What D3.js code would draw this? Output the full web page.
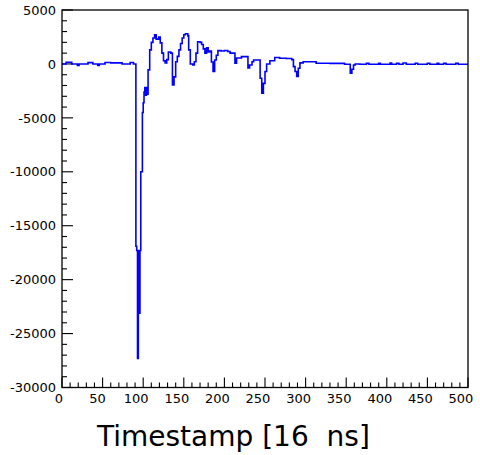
<!DOCTYPE html>
<html>
<head>
<meta charset="utf-8">
<script src="https://cdn.jsdelivr.net/npm/d3@7"></script>
<style>
  html, body { margin: 0; padding: 0; background: #fff; }
  svg { display: block; }
  text { font-family: "DejaVu Sans", sans-serif; }
</style>
</head>
<body>
<script>
// ---- data (piecewise-constant histogram levels) ----
const runStart = [0, 5, 12, 19, 21, 32, 38, 44, 46, 53, 60, 74, 84, 88,
  91, 92, 93, 94, 95, 96, 97, 99, 100, 101, 102, 103, 104, 105, 106, 108, 110, 112, 114, 116, 119,
  121, 123, 125, 127, 129, 131, 134, 136, 138, 140, 142, 144, 146, 148, 150, 152, 155, 156, 158,
  161, 163, 165, 167, 170, 172, 174, 176, 178, 180, 182, 184, 186, 188, 190, 192, 196, 200, 204, 207,
  213, 215, 221, 229, 231, 234, 236, 244, 246, 248, 250, 252, 256, 262, 268, 276, 283, 285, 287, 289,
  291, 293, 297, 313, 330, 348, 355, 357, 359, 361, 367, 375, 378, 390, 392, 404, 406, 412, 415, 420,
  424, 435, 438, 450, 453, 462, 464, 470, 473, 485, 488, 495];
const runValue = [0, 150, 0, -150, 0, 120, 0, -150, 0, 130, 100, 0, 130, 0,
  -16900, -17300, -27300, -17300, -23100, -17300, -10000, -4500, -3600, -2600, -2200, -2900, -2200, -2800, -550, 1300, 2000, 2400, 2700, 2300, 2500,
  1950, 1000, 300, 100, 400, 1100, 1000, -1950, -1200, 200, 700, 1300, 1900, 2400, 2700, 2800, 2600, 1300, 0,
  -100, 200, 1000, 2050, 2000, 1800, 1400, 1000, 1500, 1100, 1200, 180, -700, 370, 800, 1230, 1200, 1250, 1150, 1000,
  60, 550, 680, -370, -100, 200, 370, -1330, -2720, -1800, -700, 0, 300, 600, 530, 500, 400, -250, -700, -1170,
  -400, 100, 200, 60, 50, -30, -860, -500, -100, 0, -30, 60, -30, 60, -30, 80, -30, 60, -30, 80,
  -30, 60, -30, 60, -30, 60, -30, 60, -30, 60, -30, -30];
const xMax = 500;
const xDomain = [0, 500];
const yDomain = [-30000, 5000];
const xMajorTicks = [0, 50, 100, 150, 200, 250, 300, 350, 400, 450, 500];
const yMajorTicks = [5000, 0, -5000, -10000, -15000, -20000, -25000, -30000];
const xTitle = "Timestamp [16  ns]";

// ---- layout ----
const W = 480, H = 455;
const L = 62, R = 468, T = 10, B = 387.5;

const svg = d3.select("body").append("svg").attr("width", W).attr("height", H);

const x = d3.scaleLinear().domain(xDomain).range([L, R]);
const y = d3.scaleLinear().domain(yDomain).range([B, T]);

// minor ticks
const xMinor = d3.range(0, 501, 10).filter(v => v % 50 !== 0);
const yMinor = d3.range(-30000, 5001, 1000).filter(v => v % 5000 !== 0);

const g = svg.append("g");

// x ticks
g.selectAll("line.xmin").data(xMinor).enter().append("line")
  .attr("x1", d => x(d)).attr("x2", d => x(d))
  .attr("y1", B).attr("y2", B - 5)
  .attr("stroke", "#000").attr("stroke-width", 1.1);
g.selectAll("line.xmaj").data(xMajorTicks).enter().append("line")
  .attr("x1", d => x(d)).attr("x2", d => x(d))
  .attr("y1", B).attr("y2", B - 10)
  .attr("stroke", "#000").attr("stroke-width", 1.1);
// y ticks
g.selectAll("line.ymin").data(yMinor).enter().append("line")
  .attr("x1", L).attr("x2", L + 5)
  .attr("y1", d => y(d)).attr("y2", d => y(d))
  .attr("stroke", "#000").attr("stroke-width", 1.1);
g.selectAll("line.ymaj").data(yMajorTicks).enter().append("line")
  .attr("x1", L).attr("x2", L + 11)
  .attr("y1", d => y(d)).attr("y2", d => y(d))
  .attr("stroke", "#000").attr("stroke-width", 1.1);

// tick labels
g.selectAll("text.xl").data(xMajorTicks).enter().append("text")
  .attr("x", d => x(d) - (1 + 2 * String(d).length))
  .attr("y", 403)
  .attr("text-anchor", "middle")
  .attr("font-size", 13)
  .attr("fill", "#000")
  .text(d => String(d));
g.selectAll("text.yl").data(yMajorTicks).enter().append("text")
  .attr("x", 56)
  .attr("y", d => y(d))
  .attr("dy", "0.36em")
  .attr("text-anchor", "end")
  .attr("font-size", 13)
  .attr("fill", "#000")
  .text(d => String(d));

// waveform
const pts = runStart.map((s, i) => [s, runValue[i]]);
pts.push([xMax, runValue[runValue.length - 1]]);
const line = d3.line().x(d => x(d[0])).y(d => y(d[1])).curve(d3.curveStepAfter);
svg.append("path")
  .attr("d", line(pts))
  .attr("fill", "none")
  .attr("stroke", "#0000ff")
  .attr("stroke-width", 1.6);

// frame
svg.append("rect")
  .attr("x", L).attr("y", T)
  .attr("width", R - L).attr("height", B - T)
  .attr("fill", "none").attr("stroke", "#000").attr("stroke-width", 1.3);

// axis title
svg.append("text")
  .attr("x", 97).attr("y", 446)
  .attr("font-size", 28)
  .attr("fill", "#000")
  .style("white-space", "pre")
  .attr("xml:space", "preserve")
  .text(xTitle);
</script>
</body>
</html>
